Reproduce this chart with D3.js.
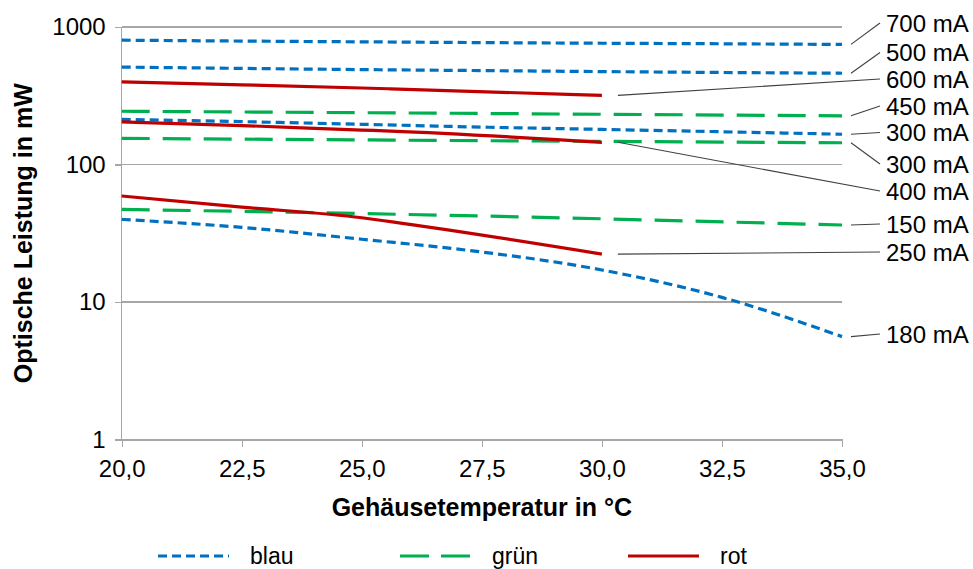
<!DOCTYPE html>
<meta charset="utf-8">
<head>
<style>
  body { margin: 0; background: #fff; }
  text { font-family: Arial, "Liberation Sans", sans-serif; fill: #000; }
  .axis path, .axis line { stroke: #a6a6a6; stroke-width: 1.3; shape-rendering: crispEdges; }
  .axis text { font-size: 24px; }
  .grid line { stroke: #a6a6a6; stroke-width: 1.3; shape-rendering: crispEdges; }
  .series { fill: none; stroke-width: 3.2; }
  .leader { stroke: #404040; stroke-width: 1.1; }
  .lbl { font-size: 24px; }
  .title { font-size: 25px; font-weight: bold; }
  .legend text { font-size: 23px; }
</style>
</head>
<body>
<script src="https://cdn.jsdelivr.net/npm/d3@7"></script>
<script>
// x values (Gehäusetemperatur in °C)
var tempBlau = [20, 22.5, 25, 27.5, 30, 32.5, 35];
var tempGruen = [20, 27.5, 35];
var tempRot = [20, 22.5, 25, 25.6, 30];

// optische Leistung in mW
var blau700 = [802, 790, 780, 770, 762, 755, 747];
var blau500 = [511, 500, 490, 482, 474, 467, 461];
var blau300 = [213, 205, 196, 187, 180, 173, 166];
var blau180 = [39.9, 34.9, 28.6, 23.1, 17.1, 10.8, 5.6];
var gruen450 = [244, 235, 226];
var gruen300 = [155, 149, 144];
var gruen150 = [47.2, 42.2, 36.3];
var rot600 = [399, 380, 360, 355, 318];
var rot400 = [204, 192, 178, 175, 145];
var rot250 = [59, 49, 41, 38.4, 22.3];

var xTicks = [20, 22.5, 25, 27.5, 30, 32.5, 35];
var yTicks = [1, 10, 100, 1000];

var seriesNames = ["blau", "grün", "rot"];
var seriesColors = { "blau": "#0070c0", "grün": "#00b050", "rot": "#c00000" };
var seriesDash = { "blau": "9,5", "grün": "28,13", "rot": null };

// series with their current labels
var lines = [
  { color: "blau", x: tempBlau, y: blau700, label: "700 mA" },
  { color: "blau", x: tempBlau, y: blau500, label: "500 mA" },
  { color: "rot", x: tempRot, y: rot600, label: "600 mA" },
  { color: "grün", x: tempGruen, y: gruen450, label: "450 mA" },
  { color: "blau", x: tempBlau, y: blau300, label: "300 mA" },
  { color: "grün", x: tempGruen, y: gruen300, label: "300 mA" },
  { color: "rot", x: tempRot, y: rot400, label: "400 mA" },
  { color: "grün", x: tempGruen, y: gruen150, label: "150 mA" },
  { color: "rot", x: tempRot, y: rot250, label: "250 mA" },
  { color: "blau", x: tempBlau, y: blau180, label: "180 mA" }
];
// vertical position of each label text (layout)
var labelY = [23, 52.5, 79, 106, 132.5, 164, 191, 224, 252, 334];

var margin = { top: 27, right: 131, bottom: 129.5, left: 121.7 },
    W = 973, H = 569,
    width = W - margin.left - margin.right,
    height = H - margin.top - margin.bottom;

var svg = d3.select("body").append("svg")
    .attr("width", W)
    .attr("height", H);

var g = svg.append("g")
    .attr("transform", "translate(" + margin.left + "," + margin.top + ")");

var x = d3.scaleLinear().domain([20, 35]).range([0, width]);
var y = d3.scaleLog().domain([1, 1000]).range([height, 0]);

// gridlines
g.append("g").attr("class", "grid")
  .selectAll("line")
  .data(yTicks.slice(1))
  .enter().append("line")
  .attr("x1", 0).attr("x2", width)
  .attr("y1", d => y(d)).attr("y2", d => y(d));

var fmt = d3.format(".1f");
var xAxis = d3.axisBottom(x).tickValues(xTicks).tickSize(7).tickSizeOuter(7)
    .tickFormat(d => fmt(d).replace(".", ","));
var yAxis = d3.axisLeft(y).tickValues(yTicks).tickSize(7).tickSizeOuter(0)
    .tickFormat(d3.format("d"));

g.append("g").attr("class", "x axis")
  .attr("transform", "translate(0," + height + ")")
  .call(xAxis)
  .selectAll("text").attr("dy", "1.15em");

g.append("g").attr("class", "y axis")
  .call(yAxis)
  .selectAll("text").attr("dx", "-0.25em");

g.selectAll(".domain").filter(function () { return this.parentNode.classList.contains("y"); })
  .attr("d", "M0," + height + "V0");

var line = d3.line()
    .x(d => x(d[0]))
    .y(d => y(d[1]))
    .curve(d3.curveMonotoneX);

lines.forEach(function (s, i) {
  var pts = s.x.map((t, k) => [t, s.y[k]]);
  g.append("path")
    .datum(pts)
    .attr("class", "series")
    .attr("stroke", seriesColors[s.color])
    .attr("stroke-dasharray", seriesDash[s.color])
    .attr("d", line);

  var last = pts[pts.length - 1];
  var sx = margin.left + x(last[0]) + (last[0] < 35 ? 16 : 9);
  var sy = margin.top + y(last[1]);
  var ly = labelY[i];
  svg.append("line").attr("class", "leader")
    .attr("x1", sx).attr("y1", sy)
    .attr("x2", 880).attr("y2", ly);
  svg.append("text").attr("class", "lbl")
    .attr("x", 886).attr("y", ly)
    .attr("dy", "0.36em")
    .text(s.label);
});

// axis titles
svg.append("text").attr("class", "title")
  .attr("x", margin.left + width / 2).attr("y", 507)
  .attr("dy", "0.36em")
  .attr("text-anchor", "middle")
  .text("Gehäusetemperatur in °C");

svg.append("text").attr("class", "title")
  .attr("transform", "translate(23," + (margin.top + height / 2) + ") rotate(-90)")
  .attr("dy", "0.36em")
  .attr("text-anchor", "middle")
  .text("Optische Leistung in mW");

// legend
var legX = [158, 400, 628];
var leg = svg.append("g").attr("class", "legend");
seriesNames.forEach(function (n, i) {
  leg.append("line")
    .attr("x1", legX[i]).attr("x2", legX[i] + 71)
    .attr("y1", 556).attr("y2", 556)
    .attr("stroke", seriesColors[n])
    .attr("stroke-width", 3.2)
    .attr("stroke-dasharray", n === "grün" ? "29,12" : (n === "blau" ? "9,5" : null));
  leg.append("text")
    .attr("x", legX[i] + 92).attr("y", 556)
    .attr("dy", "0.36em")
    .text(n);
});
</script>
</body>
